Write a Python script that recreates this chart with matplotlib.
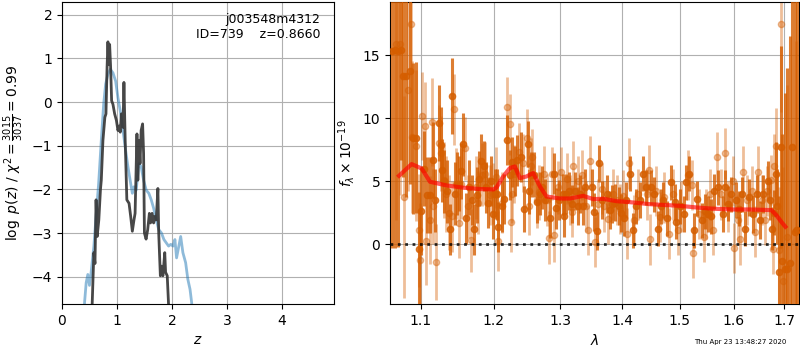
import numpy as np
import matplotlib
matplotlib.use("Agg")
import matplotlib.pyplot as plt

# ---------------- left panel: p(z) ----------------
z_chi = [0.53, 0.55, 0.58, 0.60, 0.62, 0.64, 0.67, 0.70, 0.715, 0.745, 0.78, 0.80, 0.82, 0.836, 0.85,
         0.867, 0.885, 0.903, 0.927, 0.958, 0.99, 1.018, 1.04, 1.06, 1.08, 1.11, 1.127, 1.15, 1.18,
         1.22, 1.25, 1.28, 1.31, 1.33, 1.364, 1.38, 1.40, 1.42, 1.44, 1.467, 1.485, 1.50, 1.53,
         1.56, 1.59, 1.61, 1.64, 1.667, 1.69, 1.715, 1.745, 1.76, 1.79, 1.81, 1.836, 1.87, 1.885,
         1.915, 1.96]
lnp_chi = [-5.2, -4.6, -3.45, -3.7, -2.24, -3.08, -2.7, -2.0, -1.79, -0.88, -0.35, -0.27, 0.79, 1.38, 0.86,
           1.32, 0.79, 0.03, -0.05, -0.27, -0.42, -0.65, -0.55, -0.69, -0.27, -0.58, 0.45, -0.88, -2.24,
           -2.32, -2.62, -2.96, -2.7, -2.55, -0.73, -1.79, -0.88, -1.41, -0.65, -0.5, -1.18, -3.0, -3.14,
           -2.92, -2.55, -2.77, -2.55, -2.77, -2.62, -2.7, -1.98, -3.0, -3.98, -3.76, -3.98, -3.45, -3.9,
           -3.98, -5.2]

z_prior = [0.39, 0.41, 0.44, 0.47, 0.50, 0.53, 0.58, 0.62, 0.667, 0.715, 0.758, 0.794, 0.836, 0.88,
           0.927, 0.976, 1.018, 1.06, 1.11, 1.157, 1.20, 1.24, 1.28, 1.31, 1.35, 1.40, 1.44, 1.485,
           1.533, 1.58, 1.624, 1.667, 1.715, 1.76, 1.81, 1.855, 1.90, 1.94, 1.98, 2.02, 2.055, 2.085,
           2.12, 2.16, 2.20, 2.25, 2.29, 2.33, 2.36, 2.38]
lnp_prior = [-5.2, -4.6, -4.14, -3.95, -4.2, -3.9, -3.3, -2.62, -1.86, -0.88, -0.05, 0.41, 0.64, 0.75,
             0.67, 0.48, 0.1, -0.2, -0.65, -1.1, -1.48, -1.79, -2.09, -1.94, -2.02, -1.41, -1.48, -1.79,
             -2.02, -2.09, -2.24, -2.43, -2.7, -2.92, -3.0, -3.15, -3.23, -3.3, -3.26, -3.3, -3.15, -3.57,
             -3.34, -3.08, -3.45, -3.68, -4.06, -4.29, -4.6, -5.2]

# ---------------- right panel: spectrum ----------------
lam_a = [1.0625, 1.0664, 1.0703, 1.0741, 1.0767, 1.0806, 1.0858, 1.0896, 1.0935, 1.0974, 1.1000,
         1.1041, 1.1083, 1.1124, 1.1166, 1.1194, 1.1235, 1.1263, 1.1277, 1.1304, 1.1346, 1.1387,
         1.1415, 1.1456, 1.1484, 1.1512, 1.1539, 1.1567, 1.1609, 1.1650, 1.1692, 1.1719, 1.1761,
         1.1788, 1.1816, 1.1857, 1.1899, 1.1927, 1.1968, 1.1996, 1.2025, 1.2055, 1.2070, 1.2129,
         1.2159, 1.2189, 1.2233, 1.2263, 1.2307, 1.2337, 1.2396, 1.2441, 1.2500, 1.2515, 1.2559,
         1.2604, 1.2648, 1.2693, 1.2722, 1.2767, 1.2841, 1.2900, 1.2930, 1.2975, 1.3037, 1.3054,
         1.3086, 1.3135, 1.3183, 1.3232, 1.3281, 1.3313, 1.3362, 1.3394, 1.3508, 1.3540, 1.3589,
         1.3621, 1.3670, 1.3751, 1.3800, 1.3832, 1.3881, 1.3946, 1.3979, 1.4030, 1.4065, 1.4135,
         1.4188, 1.4240, 1.4310, 1.4363, 1.4398, 1.4486, 1.4538, 1.4609, 1.4661, 1.4696, 1.4767,
         1.4837, 1.4907, 1.4942, 1.5013, 1.5069, 1.5106, 1.5161, 1.5254, 1.5309, 1.5402, 1.5457,
         1.5513, 1.5569, 1.5624, 1.5698, 1.5791, 1.5846, 1.5902, 1.5957, 1.6053, 1.6112, 1.6171,
         1.6229, 1.6308, 1.6386, 1.6465, 1.6524, 1.6582, 1.6680, 1.6720, 1.6759, 1.6798, 1.6837,
         1.6857, 1.6896, 1.6935, 1.6955, 1.7014, 1.7056, 1.7118, 1.7159, 1.7221, 1.7263]
flux_a = [15.3, 15.4, 15.3, 15.4, 13.3, 13.3, 13.7, 8.4, 8.44, -0.35, 2.64,
          6.0, 3.9, 3.9, 6.67, 3.5, 9.6, 7.9, 5.87, 5.0, 4.2, 1.17,
          11.75, 4.0, 4.8, 4.8, 5.8, 7.94, 2.05, 4.5, 3.5, 1.17, 3.9,
          5.2, 6.56, 6.2, 4.5, 3.3, 5.0, 2.4, 4.0, 3.95, 1.36, 3.0,
          3.6, 8.25, 5.5, 6.5, 5.8, 6.65, 6.9, 2.78, 7.94, 4.2, 5.5,
          5.5, 3.35, 4.0, 4.5, 3.5, 2.1, 5.6, 2.83, 3.5, 3.95, 2.2,
          4.0, 4.2, 3.2, 4.2, 3.0, 3.95, 3.0, 4.5, 4.5, 2.55, 1.05,
          6.4, 3.5, 3.95, 2.7, 3.2, 3.3, 3.0, 2.5, 2.05, 3.5, 5.6,
          1.1, 3.0, 3.5, 5.6, 4.5, 4.5, 3.95, 1.24, 3.0, 3.5, 2.05,
          4.9, 3.35, 1.77, 3.0, 2.4, 4.9, 5.6, 1.1, 3.6, 1.9, 2.6,
          2.4, 2.2, 4.2, 4.5, 2.4, 4.5, 3.2, 3.95, 3.5, 2.8, 3.95,
          1.24, 3.7, 2.4, 3.95, 1.9, 3.95, 5.0, 3.5, 1.24, 2.5, 5.6,
          3.0, -2.2, 7.7, -1.3, -2.0, -2.0, -1.5, 7.7, 1.0, 1.1]
err_a = [15.6, 15.7, 15.5, 8.7, 8.0, 9.6, 8.9, 6.0, 6.0, 4.5, 3.5,
         3.0, 3.0, 3.0, 3.0, 2.5, 3.0, 3.0, 2.5, 2.5, 2.5, 2.0,
         3.0, 2.5, 2.5, 2.2, 2.2, 2.5, 2.0, 2.2, 2.0, 2.0, 2.2,
         2.2, 2.2, 2.0, 2.0, 2.0, 2.0, 2.0, 2.0, 2.0, 2.0, 2.0,
         2.0, 2.0, 2.0, 2.0, 2.0, 2.0, 2.0, 1.8, 1.8, 1.8, 1.8,
         1.8, 1.7, 1.7, 1.7, 1.7, 1.6, 1.6, 1.6, 1.6, 1.6, 1.6,
         1.6, 1.5, 1.5, 1.5, 1.5, 1.5, 1.5, 1.5, 1.5, 1.5, 1.5,
         1.5, 1.5, 1.5, 1.5, 1.5, 1.5, 1.5, 1.5, 1.4, 1.4, 1.4,
         1.4, 1.4, 1.4, 1.4, 1.4, 1.4, 1.4, 1.4, 1.4, 1.4, 1.4,
         1.4, 1.4, 1.4, 1.4, 1.4, 1.4, 1.4, 1.4, 1.4, 1.4, 1.4,
         1.4, 1.4, 1.4, 1.4, 1.4, 1.4, 1.4, 1.4, 1.4, 1.4, 1.4,
         1.4, 1.5, 1.5, 1.5, 1.5, 1.5, 1.6, 1.6, 1.7, 1.8, 2.5,
         3.0, 6.0, 8.0, 10.0, 14.0, 16.0, 18.0, 20.0, 22.0, 25.0]

lam_b = [1.0677, 1.0728, 1.0780, 1.0832, 1.0871, 1.0884, 1.0935, 1.0974, 1.0987, 1.1014, 1.1055,
         1.1069, 1.1124, 1.1152, 1.1166, 1.1207, 1.1235, 1.1263, 1.1304, 1.1332, 1.1373, 1.1415,
         1.1443, 1.1470, 1.1512, 1.1539, 1.1595, 1.1636, 1.1678, 1.1747, 1.1774, 1.1830, 1.1885,
         1.1954, 1.1996, 1.2040, 1.2070, 1.2129, 1.2189, 1.2233, 1.2248, 1.2263, 1.2292, 1.2366,
         1.2426, 1.2485, 1.2515, 1.2559, 1.2574, 1.2648, 1.2678, 1.2752, 1.2797, 1.2826, 1.2871,
         1.2900, 1.2960, 1.3005, 1.3102, 1.3151, 1.3183, 1.3200, 1.3281, 1.3346, 1.3410, 1.3443,
         1.3475, 1.3556, 1.3605, 1.3670, 1.3702, 1.3767, 1.3848, 1.3913, 1.3962, 1.4012, 1.4082,
         1.4117, 1.4205, 1.4275, 1.4416, 1.4451, 1.4468, 1.4574, 1.4644, 1.4714, 1.4802, 1.4872,
         1.4977, 1.5031, 1.5143, 1.5217, 1.5235, 1.5346, 1.5439, 1.5476, 1.5550, 1.5606, 1.5680,
         1.5754, 1.5828, 1.5902, 1.5994, 1.6014, 1.6092, 1.6131, 1.6190, 1.6269, 1.6367, 1.6425,
         1.6484, 1.6563, 1.6621, 1.6661, 1.6739, 1.6778, 1.6798, 1.6837, 1.6896, 1.6935, 1.6974,
         1.7056, 1.7242]
flux_b = [15.9, 15.9, 3.75, 12.2, 17.5, 8.5, 7.8, 1.1, -1.27, 10.16, 9.37,
          0.26, 1.9, 9.66, 3.0, -1.4, 8.04, 7.2, 5.08, 4.0, 2.5, 2.2,
          10.7, 4.8, 1.7, 4.8, 7.6, 3.0, 0.3, 4.5, 3.3, 5.5, 5.6,
          3.9, 4.0, 5.3, 0.25, 3.3, 10.85, 9.5, 1.77, 3.95, 5.6, 7.3,
          6.4, 8.4, 3.0, 6.2, 6.9, 3.5, 4.1, 5.6, 3.5, 0.5, 5.6,
          0.7, 4.5, 5.7, 5.2, 3.5, 2.55, 6.2, 5.0, 5.5, 3.0, 1.1,
          6.6, 0.18, 3.2, 4.4, 3.0, 2.0, 3.95, 3.5, 2.8, 3.85, 0.84,
          6.4, 1.9, 3.95, 3.95, 5.9, 0.37, 4.2, 2.15, 3.7, 0.84, 3.95,
          1.1, 3.0, 5.5, 4.7, -0.7, 2.4, 0.58, 2.4, 3.95, 1.1, 6.9,
          3.95, 7.2, 3.0, 5.0, -0.3, 1.9, 0.37, 5.75, 3.5, 4.2, 1.0,
          5.75, 3.5, 1.9, 4.2, 5.1, -0.37, 6.2, 7.8, -0.5, 17.5, -2.9,
          0.6, 1.1]
err_b = [14, 12, 8, 8, 9, 6, 6, 4.5, 4.5, 3.5, 3.5,
         3.5, 3.5, 3.5, 3.0, 3.0, 3.0, 3.0, 3.0, 3.0, 3.0, 2.8,
         2.8, 2.8, 2.8, 2.8, 2.5, 2.5, 2.5, 2.5, 2.5, 2.5, 2.5,
         2.4, 2.4, 2.4, 2.4, 2.4, 2.4, 2.4, 2.4, 2.3, 2.3, 2.3,
         2.3, 2.3, 2.3, 2.2, 2.2, 2.2, 2.2, 2.2, 2.1, 2.1, 2.1,
         2.1, 2.1, 2.0, 2.0, 2.0, 2.0, 2.0, 2.0, 2.0, 2.0, 2.0,
         2.0, 2.0, 2.0, 2.0, 2.0, 2.0, 2.0, 2.0, 2.0, 2.0, 2.0,
         2.0, 2.0, 2.0, 2.0, 2.0, 2.0, 2.0, 2.0, 2.0, 2.0, 2.0,
         2.0, 2.0, 2.0, 2.0, 2.0, 2.0, 2.0, 2.0, 2.0, 2.0, 2.0,
         2.0, 2.0, 2.0, 2.0, 2.0, 2.0, 2.0, 2.0, 2.0, 2.0, 2.0,
         2.0, 2.0, 2.0, 2.0, 2.0, 2.0, 2.5, 3.0, 5.0, 7.0, 9.0,
         12.0, 15.0]

lam_model = [1.0715, 1.0878, 1.101, 1.112, 1.134, 1.157, 1.1806, 1.2, 1.2044, 1.214, 1.2236,
             1.2311, 1.2385, 1.2484, 1.2585, 1.2686, 1.2787, 1.30, 1.3151, 1.3363, 1.3525, 1.3687,
             1.3907, 1.4131, 1.4474, 1.50, 1.5304, 1.5613, 1.60, 1.6312, 1.6741, 1.6842, 1.6943,
             1.7026]
flux_model = [5.42, 6.35, 6.0, 4.95, 4.66, 4.48, 4.37, 4.34, 4.5, 5.36, 6.03,
              6.16, 5.24, 5.37, 5.64, 4.58, 3.78, 3.62, 3.62, 3.83, 3.57, 3.6,
              3.41, 3.33, 3.17, 3.04, 2.91, 2.81, 2.75, 2.75, 2.7, 2.3, 1.77,
              1.38]

lam_ticks = [1.1, 1.2, 1.3, 1.4, 1.5, 1.6, 1.7]

obj_name = "j003548m4312"
obj_id = 739
z_best = 0.8660
timestamp = "Thu Apr 23 13:48:27 2020"

grism_color = (0.8352941176470589, 0.3686274509803922, 0.0)

fig = plt.figure(figsize=(8, 3.5), dpi=100)
ax1 = fig.add_axes([0.0775, 0.131, 0.34, 0.863])
ax2 = fig.add_axes([0.4875, 0.131, 0.5115, 0.863])

# left panel
ax1.plot(z_prior, lnp_prior, color='tab:blue', alpha=0.5, lw=2)
ax1.plot(z_chi, lnp_chi, color='0.2', alpha=0.9, lw=2)
ax1.set_xlim(0, 4.95)
ax1.set_ylim(-4.63, 2.29)
ax1.set_xticks([0, 1, 2, 3, 4])
ax1.set_yticks([-4, -3, -2, -1, 0, 1, 2])
ax1.grid(True)
ax1.set_xlabel(r'$z$')
ax1.set_ylabel(r'$\log\ p(z)$' + ' / ' + r'$\chi^2=\frac{3015}{3037}=0.99$')
ax1.text(0.95, 0.965, f"{obj_name}\nID={obj_id}    z={z_best:.4f}",
         transform=ax1.transAxes, ha='right', va='top', multialignment='right', fontsize=9)

# right panel
ax2.errorbar(lam_a, flux_a, yerr=err_a, color=grism_color, alpha=0.8, marker='o', ms=4.5,
             linestyle='None', elinewidth=2.2, zorder=3)
ax2.errorbar(lam_b, flux_b, yerr=err_b, color=grism_color, alpha=0.4, marker='o', ms=4.5,
             linestyle='None', elinewidth=2.0, zorder=2)
ax2.plot(lam_model, flux_model, color='red', alpha=0.65, lw=3, zorder=4)
ax2.axhline(0, color='k', ls=':', lw=2, alpha=0.8, zorder=5)
ax2.set_xscale('log')
ax2.set_xlim(1.06, 1.731)
ax2.set_ylim(-4.76, 19.2)
ax2.set_xticks(lam_ticks)
ax2.set_xticklabels([f"{t:.1f}" for t in lam_ticks])
ax2.xaxis.set_minor_locator(matplotlib.ticker.NullLocator())
ax2.set_yticks([0, 5, 10, 15])
ax2.grid(True)
ax2.set_xlabel(r'$\lambda$')
ax2.set_ylabel(r'$f_\lambda\times10^{-19}$')

fig.text(0.983, 0.015, timestamp, ha='right', va='bottom', fontsize=5)

fig.savefig("out.png", dpi=100)
